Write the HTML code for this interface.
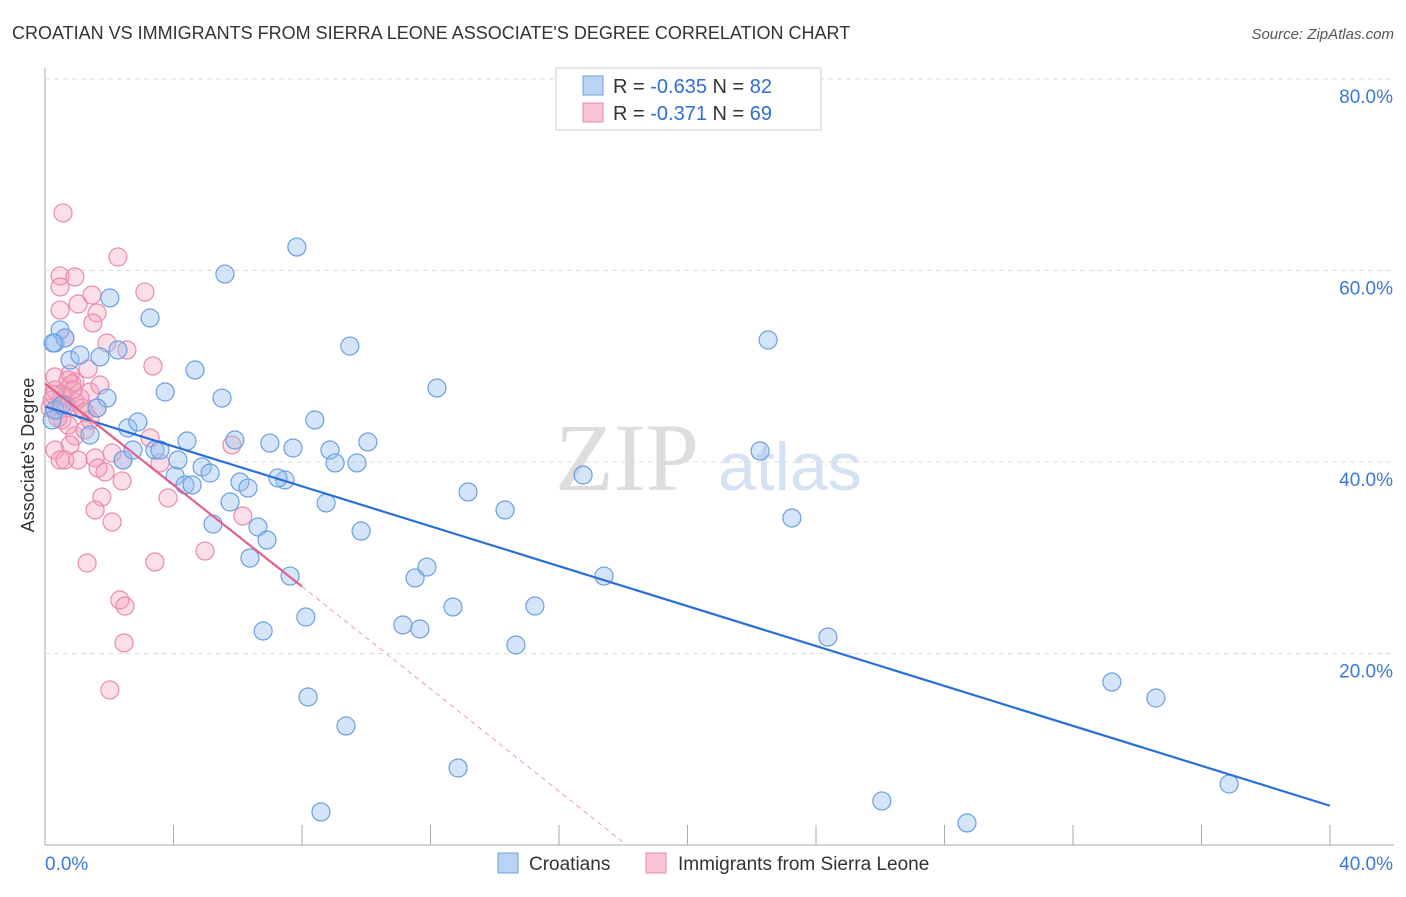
<!DOCTYPE html>
<html><head><meta charset="utf-8"><style>
body{margin:0;background:#fff;font-family:"Liberation Sans",sans-serif;}
</style></head><body>
<svg id="chart" width="1406" height="892" xmlns="http://www.w3.org/2000/svg" font-family="Liberation Sans, sans-serif">
<text x="12" y="39" font-size="18" fill="#333">CROATIAN VS IMMIGRANTS FROM SIERRA LEONE ASSOCIATE'S DEGREE CORRELATION CHART</text>
<text x="1394" y="39" font-size="15" fill="#555" font-style="italic" text-anchor="end">Source: ZipAtlas.com</text>
<g id="grid"></g>
<text x="555" y="490" font-size="96" fill="#ddd" font-family="Liberation Serif, serif">ZIP</text>
<text x="718" y="490" font-size="68" fill="#d4e2f4">atlas</text>
<text transform="translate(34,455) rotate(-90)" font-size="18" fill="#333" text-anchor="middle">Associate's Degree</text>
<g id="marks"></g>
<g>
<rect x="556" y="68" width="265" height="62" fill="#fff" stroke="#ccc"/>
<rect x="583" y="76" width="20" height="19" fill="#bcd4f4" stroke="#6a9fe0"/>
<rect x="583" y="103" width="20" height="19" fill="#f9c4d6" stroke="#e884a8"/>
<text x="613" y="93" font-size="20" fill="#333">R = <tspan fill="#2f6fd1">-0.635</tspan>   N = <tspan fill="#2f6fd1">82</tspan></text>
<text x="613" y="120" font-size="20" fill="#333">R =  <tspan fill="#2f6fd1">-0.371</tspan>   N = <tspan fill="#2f6fd1">69</tspan></text>
</g>
<g>
<rect x="498" y="853" width="20" height="20" fill="#bcd4f4" stroke="#6a9fe0"/>
<text x="529" y="870" font-size="19" fill="#333">Croatians</text>
<rect x="646" y="853" width="20" height="20" fill="#f9c4d6" stroke="#e884a8"/>
<text x="678" y="870" font-size="19" fill="#333">Immigrants from Sierra Leone</text>
</g>
</svg>
<script>
const yTicks=[20,40,60,80];
const yTickLabels=["20.0%","40.0%","60.0%","80.0%"];
const xTickLabels=["0.0%","40.0%"];
const bluePx=[[55,343],[60,330],[65,338],[70,360],[80,355],[100,357],[110,298],[118,350],[150,318],[225,274],[297,247],[350,346],[195,370],[165,392],[107,398],[97,408],[90,435],[128,428],[138,422],[123,460],[133,450],[155,450],[160,450],[175,476],[185,485],[178,460],[192,485],[202,467],[210,473],[187,441],[222,398],[235,440],[230,502],[213,524],[240,482],[248,488],[258,527],[267,540],[250,558],[270,443],[285,480],[278,478],[293,448],[315,420],[330,450],[335,463],[357,463],[368,442],[326,503],[361,531],[437,388],[468,492],[505,510],[583,475],[760,451],[768,340],[792,518],[290,576],[306,617],[263,631],[415,578],[427,567],[403,625],[420,629],[453,607],[535,606],[516,645],[604,576],[828,637],[308,697],[346,726],[458,768],[321,812],[882,801],[967,823],[1112,682],[1156,698],[1229,784],[52,420],[55,410],[53,343],[62,405]];
const pinkPx=[[63,213],[118,257],[60,276],[75,277],[60,287],[92,295],[145,292],[78,304],[60,310],[97,313],[93,323],[65,338],[107,343],[127,350],[153,366],[55,377],[88,369],[70,374],[75,382],[72,384],[90,392],[55,390],[65,397],[75,402],[82,408],[97,408],[58,410],[50,408],[62,420],[68,425],[75,436],[70,445],[150,438],[55,450],[85,430],[112,453],[232,445],[60,460],[65,460],[78,460],[95,458],[123,460],[160,463],[98,468],[105,472],[122,481],[102,497],[168,498],[95,510],[112,522],[243,516],[205,551],[87,563],[155,562],[120,600],[125,606],[124,643],[110,690],[52,400],[80,398],[62,395],[68,380],[100,385],[58,418],[73,390],[85,412],[66,405],[54,395],[90,420]];
// convert read pixel positions to data values (percent)
const blueX=bluePx.map(p=>+((p[0]-45)/32.125).toFixed(2));
const blueY=bluePx.map(p=>+((845-p[1])/9.575).toFixed(2));
const pinkX=pinkPx.map(p=>+((p[0]-45)/32.125).toFixed(2));
const pinkY=pinkPx.map(p=>+((845-p[1])/9.575).toFixed(2));
const blueTrend=[[0,45.8],[40,4.1]];
const pinkTrend=[[0,48.2],[8,27.0]];
const pinkDash=[[8,27.0],[18.1,0]];

const X=v=>45+v*32.125, Y=v=>845-v*9.575;
const NS="http://www.w3.org/2000/svg";
function mk(t,a,parent){const e=document.createElementNS(NS,t);for(const k in a)e.setAttribute(k,a[k]);parent.appendChild(e);return e;}
const grid=document.getElementById('grid'), marks=document.getElementById('marks');
const ax=mk('line',{x1:45,y1:68,x2:45,y2:845,stroke:'#aaa'},grid);


const xa=mk('line',{x1:45,y1:845,x2:1394,y2:845,stroke:'#aaa'},grid);


yTicks.forEach((t,i)=>{
 const g=mk('line',{x1:45,y1:Y(t),x2:1394,y2:Y(t),stroke:'#ddd','stroke-dasharray':'5,4'},grid);
 
 
 const tx=mk('text',{x:1393,y:Y(t)+24,'font-size':19,fill:'#3b78d8','text-anchor':'end'},grid);
 tx.textContent=yTickLabels[i];
 
 
});
for(let i=0;i<=10;i++){
 const tk=mk('line',{x1:X(i*4),y1:825,x2:X(i*4),y2:845,stroke:'#aaa'},grid);
 
 
}
[[0,45,'start'],[40,1393,'end']].forEach((d,i)=>{
 const tx=mk('text',{x:d[1],y:870,'font-size':19,fill:'#3b78d8','text-anchor':d[2]},grid);
 tx.textContent=xTickLabels[i];
 
 
});
pinkX.forEach((x,i)=>{
 const c=mk('circle',{cx:X(x),cy:Y(pinkY[i]),r:9,fill:'rgba(244,160,190,0.35)',stroke:'#ea8aac','stroke-width':1.2},marks);
 
 
});
blueX.forEach((x,i)=>{
 const c=mk('circle',{cx:X(x),cy:Y(blueY[i]),r:9,fill:'rgba(150,190,240,0.4)',stroke:'#6a9fe0','stroke-width':1.2},marks);
 
 
});
const bl=mk('line',{x1:X(blueTrend[0][0]),y1:Y(blueTrend[0][1]),x2:X(blueTrend[1][0]),y2:Y(blueTrend[1][1]),stroke:'#2a6fd6','stroke-width':2.2},marks);


const pl=mk('line',{x1:X(pinkTrend[0][0]),y1:Y(pinkTrend[0][1]),x2:X(pinkTrend[1][0]),y2:Y(pinkTrend[1][1]),stroke:'#e0608c','stroke-width':2.2},marks);


const pd=mk('line',{x1:X(pinkDash[0][0]),y1:Y(pinkDash[0][1]),x2:X(pinkDash[1][0]),y2:Y(pinkDash[1][1]),stroke:'#e8a0b8','stroke-width':1,'stroke-dasharray':'5,4'},marks);


</script>
</body></html>
